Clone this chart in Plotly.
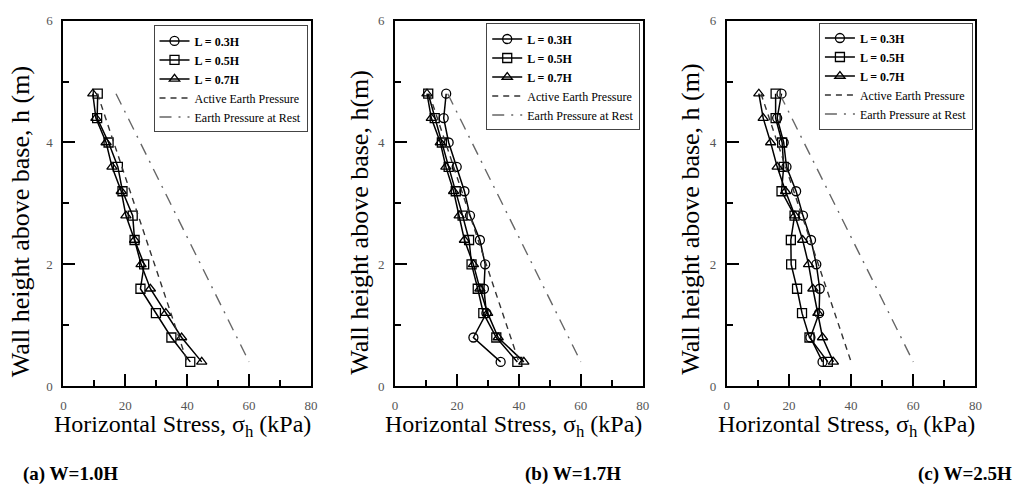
import plotly.graph_objects as go

h = [4.8, 4.4, 4.0, 3.6, 3.2, 2.8, 2.4, 2.0, 1.6, 1.2, 0.8, 0.4]

# Panel (a) W=1.0H
a_L03 = []
a_L05 = [11.1, 10.9, 14.6, 17.6, 19.1, 22.4, 23.0, 26.1, 24.9, 29.9, 34.9, 41.0]
a_L07 = [9.5, 10.5, 13.8, 15.7, 18.7, 20.2, 23.0, 25.1, 28.1, 33.1, 38.2, 44.7]
# Panel (b) W=1.7H
b_L03 = [16.5, 15.7, 17.3, 19.9, 22.4, 24.2, 27.4, 29.1, 28.7, 29.5, 25.3, 34.1]
b_L05 = [10.7, 12.8, 15.1, 17.3, 19.6, 21.8, 23.9, 24.7, 26.7, 28.5, 32.7, 39.5]
b_L07 = [10.3, 11.7, 14.6, 16.4, 18.9, 20.7, 22.4, 25.3, 27.4, 29.9, 33.3, 41.6]
# Panel (c) W=2.5H
c_L03 = [17.6, 16.2, 18.3, 19.2, 22.3, 24.5, 27.1, 28.8, 29.9, 29.7, 26.9, 30.8]
c_L05 = [15.7, 15.7, 17.8, 18.3, 17.6, 21.8, 20.6, 20.7, 22.6, 24.2, 26.6, 32.5]
c_L07 = [10.3, 11.7, 14.1, 16.2, 18.9, 21.9, 24.4, 26.3, 27.7, 29.3, 30.8, 34.3]

theory_h = [4.8, 0.4]
active_x = [11.0, 40.0]
rest_x = [17.0, 60.0]

captions = ["(a) W=1.0H", "(b) W=1.7H", "(c) W=2.5H"]
ytitles = ["Wall height above base, h (m)", "Wall height above base, h(m)",
           "Wall height above base, h (m)"]
xtitle = "Horizontal Stress, σ<sub>h</sub> (kPa)"
legend_names = ["<b>L = 0.3H</b>", "<b>L = 0.5H</b>", "<b>L = 0.7H</b>",
                "Active Earth Pressure", "Earth Pressure at Rest"]

panels = [(a_L03, a_L05, a_L07), (b_L03, b_L05, b_L07), (c_L03, c_L05, c_L07)]

W, H = 1021, 500
xpix = [(61, 311), (396, 646), (731, 982)]
ytop, ybot = 14, 391
legend_pix = [(152, 19), (488, 17), (824, 16)]
ytitle_pix = [(18, 221), (360, 222), (694, 219)]
caps_x = [18, 525, 922]

fig = go.Figure()
serif = "Liberation Serif"
symbols = ["circle-open", "square-open", "triangle-up-open"]

for i, series in enumerate(panels):
    xa = "x" if i == 0 else f"x{i+1}"
    ya = "y" if i == 0 else f"y{i+1}"
    lg = "legend" if i == 0 else f"legend{i+1}"
    for k, xs in enumerate(series):
        fig.add_trace(go.Scatter(x=xs if xs else [None], y=h if xs else [None],
                                 mode="lines+markers", name=legend_names[k],
                                 xaxis=xa, yaxis=ya, legend=lg,
                                 line=dict(color="black", width=1.5),
                                 marker=dict(symbol=symbols[k], size=9, color="black",
                                             line=dict(width=1.3, color="black"))))
    fig.add_trace(go.Scatter(x=active_x, y=theory_h, mode="lines", name=legend_names[3],
                             xaxis=xa, yaxis=ya, legend=lg,
                             line=dict(color="#333333", width=1.4, dash="6px,5px")))
    fig.add_trace(go.Scatter(x=rest_x, y=theory_h, mode="lines", name=legend_names[4],
                             xaxis=xa, yaxis=ya, legend=lg,
                             line=dict(color="#666666", width=1.4, dash="12px,7px,2px,7px")))

    x0, x1 = xpix[i]
    axis_common = dict(showline=True, linewidth=2, linecolor="black", mirror=True,
                       ticks="inside", tickwidth=2, tickcolor="black", showgrid=False,
                       zeroline=False, tickfont=dict(family=serif, size=13, color="#555555"))
    fig.layout[f"xaxis{'' if i == 0 else i+1}"] = dict(
        domain=[x0 / W, x1 / W], anchor=ya, range=[0, 80], tickvals=[0, 20, 40, 60, 80],
        ticklen=12, ticklabelstandoff=6,
        minor=dict(dtick=10, ticks="inside", ticklen=6, tickwidth=2, tickcolor="black"),
        **axis_common)
    fig.layout[f"yaxis{'' if i == 0 else i+1}"] = dict(
        domain=[(H - ybot) / H, (H - ytop) / H], anchor=xa, range=[0, 6], tickvals=[0, 2, 4, 6],
        ticklen=12, ticklabelstandoff=6,
        minor=dict(dtick=1, ticks="inside", ticklen=6, tickwidth=2, tickcolor="black"),
        **axis_common)

    lx, ly = legend_pix[i]
    fig.layout[lg] = dict(x=lx / W, y=(H - ly) / H, xanchor="left", yanchor="top",
                          bgcolor="white", bordercolor="#444444", borderwidth=1,
                          font=dict(family=serif, size=12, color="black"),
                          itemwidth=30, tracegroupgap=0)

    fig.add_annotation(x=((x0 + x1) / 2 - 5) / W, y=(H - 432) / H, xref="paper", yref="paper",
                       xanchor="center", yanchor="middle",
                       text=xtitle, showarrow=False,
                       font=dict(family=serif, size=24, color="black"))
    tx, ty = ytitle_pix[i]
    fig.add_annotation(x=tx / W, y=(H - ty) / H, xref="paper", yref="paper",
                       xanchor="center", yanchor="middle",
                       text=ytitles[i], showarrow=False, textangle=-90,
                       font=dict(family=serif, size=26, color="black"))
    fig.add_annotation(x=caps_x[i] / W, y=(H - 481) / H, xref="paper", yref="paper",
                       xanchor="left", yanchor="middle", text=f"<b>{captions[i]}</b>",
                       showarrow=False, font=dict(family=serif, size=19, color="black"))

fig.update_layout(width=W, height=H, margin=dict(l=0, r=0, t=0, b=0),
                  plot_bgcolor="white", paper_bgcolor="white", showlegend=True)

fig.write_html("out.html")
